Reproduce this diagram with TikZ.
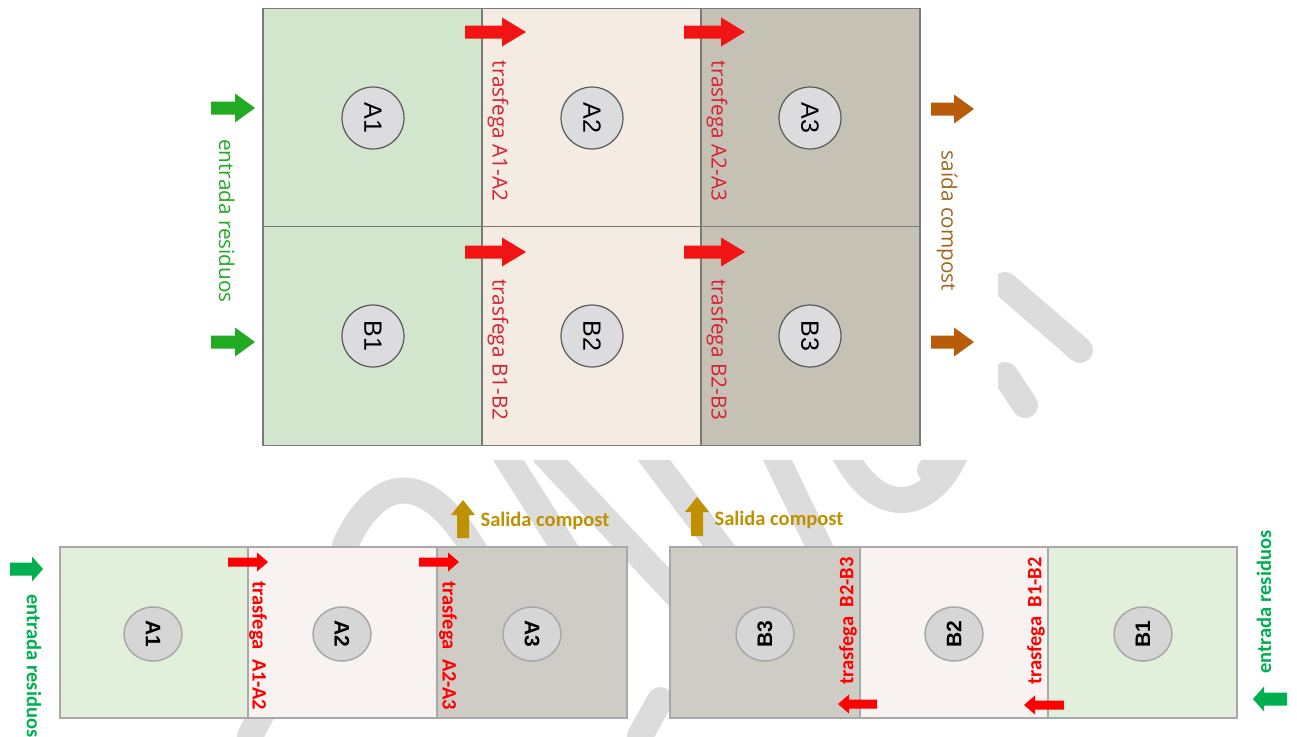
\documentclass[tikz,border=0pt]{standalone}
\usepackage{fontspec}
\usepackage{tikz}
\usetikzlibrary{positioning,shapes.geometric}

\newfontfamily\topfont{Open Sans}
\newfontfamily\lowfont{Carlito}
\newfontfamily\diskfont{Liberation Sans}

\definecolor{tgreen}{HTML}{D2E5CD}
\definecolor{tcream}{HTML}{F4ECE2}
\definecolor{tgray}{HTML}{C5C1B5}
\definecolor{tborder}{HTML}{7A7A7A}
\definecolor{tdisk}{HTML}{DCDCDF}
\definecolor{tred}{HTML}{D42030}
\definecolor{tredarrow}{HTML}{F21414}
\definecolor{tarrowgreen}{HTML}{22AA22}
\definecolor{tbrown}{HTML}{B85C0A}
\definecolor{tbrowntext}{HTML}{A0661E}
\definecolor{lgreen}{HTML}{E2EFDA}
\definecolor{lcream}{HTML}{F8F3F0}
\definecolor{lgray}{HTML}{CFCBC5}
\definecolor{lborder}{HTML}{A8A8A8}
\definecolor{ldisk}{HTML}{D6D6D6}
\definecolor{lred}{HTML}{FF0000}
\definecolor{lgold}{HTML}{BF9000}
\definecolor{lgreentext}{HTML}{00B050}
\definecolor{wmark}{HTML}{DCDCDC}

\tikzset{
  pics/blockarrow/.style args={#1/#2/#3/#4}{code={
    \fill (0,#2/2) -- (#1-#4,#2/2) -- (#1-#4,#3/2) -- (#1,0)
      -- (#1-#4,-#3/2) -- (#1-#4,-#2/2) -- (0,-#2/2) -- cycle;
  }}
}

\begin{document}
\begin{tikzpicture}[
  x=1pt, y=-1pt,
  topcell/.style={draw=tborder, line width=1.2pt, minimum width=219pt,
    minimum height=218.5pt, inner sep=0pt},
  lowcell/.style={draw=lborder, line width=2pt, minimum height=171pt,
    inner sep=0pt},
  topdisk/.style={circle, draw=black!65, fill=tdisk, line width=1.2pt,
    minimum size=62pt, inner sep=0pt, rotate=-90,
    font=\diskfont\fontsize{25}{25}\selectfont},
  lowdisk/.style={ellipse, draw=lborder, fill=ldisk, line width=1.5pt,
    minimum width=54pt, minimum height=58pt, inner sep=0pt,
    font=\diskfont\bfseries\fontsize{21}{21}\selectfont},
  toplabel/.style={inner sep=0pt, font=\topfont\fontsize{20.7}{21}\selectfont},
  lowlabel/.style={inner sep=0pt, font=\lowfont\bfseries\fontsize{20.5}{21}\selectfont},
  wm/.style={draw=wmark, line width=26pt, line cap=round}
]
  \useasboundingbox (0,0) rectangle (1297,736);

  % watermark
  \draw[wm] (345,545) .. controls (380,470) and (430,470) .. (480,560);
  \draw[wm] (250,736) -- (300,640);
  \draw[wm] (505,455) -- (610,620);
  \draw[wm] (545,455) -- (700,620);
  \draw[wm] (650,455) -- (760,600);
  \draw[wm] (775,455) -- (845,600);
  \draw[wm] (845,455) .. controls (880,520) and (930,510) .. (955,455);
  \draw[wm] (640,736) -- (660,700);
  \draw[wm] (1005,285) -- (1080,350);
  \draw[wm] (1005,375) -- (1025,405);
  \draw[wm] (930,470) -- (960,440);
  \fill[white] (200,0) rectangle (998,460);

  % upper plan
  \node[topcell, fill=tgreen] (cA1) at (372.5,117.5) {};
  \node[topcell, fill=tcream] (cA2) at (591.5,117.5) {};
  \node[topcell, fill=tgray] (cA3) at (810.5,117.5) {};
  \node[topcell, fill=tgreen] (cB1) at (372.5,336) {};
  \node[topcell, fill=tcream] (cB2) at (591.5,336) {};
  \node[topcell, fill=tgray] (cB3) at (810.5,336) {};

  \node[topdisk] (A1) at (373,118) {A1};
  \node[topdisk] (A2) at (592,118) {A2};
  \node[topdisk] (A3) at (810,118) {A3};
  \node[topdisk] (B1) at (373,336) {B1};
  \node[topdisk] (B2) at (592,336) {B2};
  \node[topdisk] (B3) at (810,336) {B3};

  \pic[fill=tredarrow] at (465,32) {blockarrow=61/13/29/24};
  \pic[fill=tredarrow] at (684,32) {blockarrow=61/13/29/24};
  \pic[fill=tredarrow] at (465,252) {blockarrow=61/13/29/24};
  \pic[fill=tredarrow] at (684,252) {blockarrow=61/13/29/24};
  \node[toplabel, text=tred, rotate=-90] (tA12) at (498,131) {trasfega A1-A2};
  \node[toplabel, text=tred, rotate=-90] (tA23) at (717,131) {trasfega A2-A3};
  \node[toplabel, text=tred, rotate=-90] (tB12) at (498,350) {trasfega B1-B2};
  \node[toplabel, text=tred, rotate=-90] (tB23) at (717,350) {trasfega B2-B3};

  \pic[fill=tarrowgreen] at (211,108) {blockarrow=44/13/29/20};
  \pic[fill=tarrowgreen] at (211,342) {blockarrow=44/13/29/20};
  \node[toplabel, text=tarrowgreen, rotate=-90] (inTop) at (227,221) {entrada residuos};

  \pic[fill=tbrown] at (931,109) {blockarrow=43/13/29/20};
  \pic[fill=tbrown] at (931,342) {blockarrow=43/13/29/20};
  \node[toplabel, text=tbrowntext, rotate=-90] (outTop) at (947,221) {saída compost};

  % lower plans
  \node[lowcell, fill=lgreen, minimum width=188pt] (lA1) at (154,632.5) {};
  \node[lowcell, fill=lcream, minimum width=189pt] (lA2) at (342.5,632.5) {};
  \node[lowcell, fill=lgray, minimum width=190pt] (lA3) at (532,632.5) {};
  \node[lowcell, fill=lgray, minimum width=190pt] (lB3) at (765,632.5) {};
  \node[lowcell, fill=lcream, minimum width=188pt] (lB2) at (954,632.5) {};
  \node[lowcell, fill=lgreen, minimum width=189pt] (lB1) at (1142.5,632.5) {};

  \node[lowdisk, rotate=-90] (dA1) at (153,634) {A1};
  \node[lowdisk, rotate=-90] (dA2) at (342,634) {A2};
  \node[lowdisk, rotate=-90] (dA3) at (532,634) {A3};
  \node[lowdisk, rotate=90] (dB3) at (765,634) {B3};
  \node[lowdisk, rotate=90] (dB2) at (954,634) {B2};
  \node[lowdisk, rotate=90] (dB1) at (1143,634) {B1};

  \pic[fill=lred] at (228,562) {blockarrow=40/9/19/11};
  \pic[fill=lred] at (419,562) {blockarrow=40/9/19/11};
  \pic[fill=lred, rotate=180] at (877,704) {blockarrow=39/9/19/11};
  \pic[fill=lred, rotate=180] at (1064,705) {blockarrow=40/9/19/11};
  \node[lowlabel, text=lred, rotate=-90] (lA12) at (258,646) {trasfega\ \ A1-A2};
  \node[lowlabel, text=lred, rotate=-90] (lA23) at (448,646) {trasfega\ \ A2-A3};
  \node[lowlabel, text=lred, rotate=90] (lB23) at (848,621) {trasfega\ \ B2-B3};
  \node[lowlabel, text=lred, rotate=90] (lB12) at (1036,621) {trasfega\ \ B1-B2};

  \pic[fill=lgold, rotate=90] at (463,538) {blockarrow=38/12/24/15};
  \pic[fill=lgold, rotate=90] at (697,536) {blockarrow=39/12/24/15};
  \node[lowlabel, text=lgold] (outA) at (545,521) {Salida compost};
  \node[lowlabel, text=lgold] (outB) at (779,520) {Salida compost};

  \pic[fill=lgreentext] at (10,569) {blockarrow=33/13/25/11};
  \pic[fill=lgreentext, rotate=180] at (1287,699) {blockarrow=34/13/25/11};
  \node[lowlabel, text=lgreentext, rotate=-90] (inA) at (34,666) {entrada residuos};
  \node[lowlabel, text=lgreentext, rotate=90] (inB) at (1264,602) {entrada residuos};
\end{tikzpicture}
\end{document}
